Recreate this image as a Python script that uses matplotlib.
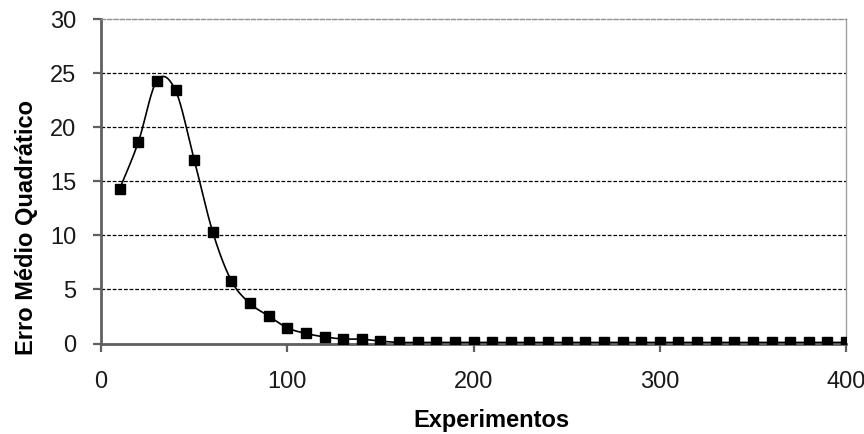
import matplotlib
matplotlib.use("Agg")
import matplotlib.pyplot as plt
import numpy as np

plt.rcParams["font.family"] = ["Liberation Sans", "DejaVu Sans"]

# values
experimentos = list(range(10, 410, 10))
erro_inicio = [14.3, 18.6, 24.3, 23.4, 17.0, 10.3, 5.8, 3.7, 2.55, 1.45,
               0.93, 0.61, 0.42, 0.40, 0.22]
erro = erro_inicio + [0.1] * (len(experimentos) - len(erro_inicio))
y_ticks = [0, 5, 10, 15, 20, 25, 30]
x_ticks = [0, 100, 200, 300, 400]


def smooth(x, y, n=20):
    # Catmull-Rom style smoothing, like the spreadsheet's smoothed line
    x = np.asarray(x, float)
    y = np.asarray(y, float)
    px = np.concatenate([[x[0]], x, [x[-1]]])
    py = np.concatenate([[y[0]], y, [y[-1]]])
    xs, ys = [], []
    t = np.linspace(0, 1, n)
    for i in range(1, len(px) - 2):
        p0, p1, p2, p3 = px[i - 1], px[i], px[i + 1], px[i + 2]
        q0, q1, q2, q3 = py[i - 1], py[i], py[i + 1], py[i + 2]
        c1x, c1y = p1 + (p2 - p0) / 6, q1 + (q2 - q0) / 6
        c2x, c2y = p2 - (p3 - p1) / 6, q2 - (q3 - q1) / 6
        b = [(1 - t) ** 3, 3 * (1 - t) ** 2 * t, 3 * (1 - t) * t ** 2, t ** 3]
        xs.append(b[0] * p1 + b[1] * c1x + b[2] * c2x + b[3] * p2)
        ys.append(b[0] * q1 + b[1] * c1y + b[2] * c2y + b[3] * q2)
    return np.concatenate(xs), np.concatenate(ys)


fig = plt.figure(figsize=(8.64, 4.34), dpi=100)
ax = fig.add_axes([0.1169, 0.2085, 0.8623, 0.7477])

sx, sy = smooth(experimentos, erro)
ax.plot(sx, sy, color="black", lw=1.2, zorder=3)
ax.plot(experimentos, erro, ls="none", marker="s", ms=6.5, color="black", zorder=4)

for v in y_ticks[1:-1]:
    ax.axhline(v, color="black", lw=0.9, ls=(0, (3, 1.5)), zorder=1)

ax.set_xlim(0, 400)
ax.set_ylim(0, 30)
ax.set_xticks(x_ticks)
ax.set_yticks(y_ticks)

ax.spines["right"].set_color("#a0a0a0")
ax.spines["right"].set_linewidth(1.0)
ax.spines["top"].set_color("#909090")
ax.spines["top"].set_linewidth(1.0)
ax.spines["top"].set_linestyle((0, (3, 1.5)))
for side in ["left", "bottom"]:
    ax.spines[side].set_color("#606060")
    ax.spines[side].set_linewidth(2.0)

ax.tick_params(axis="both", direction="out", length=6, width=1.6,
               color="#606060", labelsize=17, labelcolor="#1a1a1a")
ax.tick_params(axis="y", pad=12)
ax.tick_params(axis="x", pad=14)

ax.set_xlabel("Experimentos", fontsize=17, fontweight="bold")
ax.xaxis.set_label_coords(0.524, -0.203)
ax.set_ylabel("Erro Médio Quadrático", fontsize=17, fontweight="bold")
ax.yaxis.set_label_coords(-0.085, 0.357)

fig.savefig("out.png", dpi=100)
